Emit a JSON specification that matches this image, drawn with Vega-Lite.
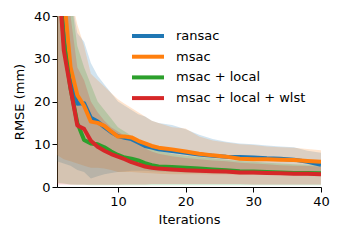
{
 "$schema": "https://vega.github.io/schema/vega-lite/v6.json",
 "width": 264, "height": 171,
 "autosize": {"type": "none"},
 "padding": {"left": 57, "top": 16, "right": 19, "bottom": 53},
 "background": "white",
 "config": {
  "view": {"stroke": null},
  "font": "DejaVu Sans",
  "axis": {"grid": false, "domainColor": "black", "tickColor": "black", "labelColor": "black", "titleColor": "black", "labelFontSize": 13, "titleFontSize": 13, "titleFontWeight": "normal", "tickSize": 5, "labelPadding": 3, "domainWidth": 1, "tickWidth": 1, "labelFlush": false},
  "legend": {"labelFontSize": 13, "labelColor": "black"}
 },
 "data": {"values": [
  {"s":"ransac","i":1,"m":65,"lo":6,"hi":100},
  {"s":"ransac","i":2,"m":42,"lo":5.5,"hi":70},
  {"s":"ransac","i":3,"m":26,"lo":5,"hi":45},
  {"s":"ransac","i":4,"m":19.5,"lo":4,"hi":36},
  {"s":"ransac","i":5,"m":19.6,"lo":3.5,"hi":34},
  {"s":"ransac","i":6,"m":16.2,"lo":2,"hi":29},
  {"s":"ransac","i":7,"m":15.3,"lo":2.5,"hi":26},
  {"s":"ransac","i":8,"m":14,"lo":3,"hi":24},
  {"s":"ransac","i":9,"m":12.8,"lo":3.3,"hi":22},
  {"s":"ransac","i":10,"m":11.9,"lo":3.5,"hi":20},
  {"s":"ransac","i":11,"m":11.5,"lo":3.6,"hi":19},
  {"s":"ransac","i":12,"m":11.2,"lo":3.8,"hi":18},
  {"s":"ransac","i":13,"m":10.4,"lo":3.8,"hi":17},
  {"s":"ransac","i":14,"m":9.6,"lo":3.8,"hi":16.5},
  {"s":"ransac","i":15,"m":9.2,"lo":3.7,"hi":15.5},
  {"s":"ransac","i":16,"m":8.8,"lo":3.6,"hi":15},
  {"s":"ransac","i":18,"m":8.4,"lo":3.5,"hi":14.5},
  {"s":"ransac","i":20,"m":8.0,"lo":3.4,"hi":13.5},
  {"s":"ransac","i":22,"m":7.6,"lo":3.3,"hi":12.2},
  {"s":"ransac","i":24,"m":7.3,"lo":3.2,"hi":11.2},
  {"s":"ransac","i":26,"m":7.1,"lo":3.1,"hi":10.6},
  {"s":"ransac","i":28,"m":7.0,"lo":3.0,"hi":10.2},
  {"s":"ransac","i":30,"m":6.9,"lo":3.0,"hi":10},
  {"s":"ransac","i":32,"m":6.7,"lo":2.9,"hi":9.7},
  {"s":"ransac","i":34,"m":6.6,"lo":2.8,"hi":9.5},
  {"s":"ransac","i":36,"m":6.4,"lo":2.7,"hi":9.3},
  {"s":"ransac","i":38,"m":5.9,"lo":2.6,"hi":8.5},
  {"s":"ransac","i":40,"m":5.2,"lo":2.5,"hi":8.0},
  {"s":"msac","i":1,"m":70,"lo":7.5,"hi":100},
  {"s":"msac","i":2,"m":45,"lo":6.5,"hi":80},
  {"s":"msac","i":3,"m":28,"lo":6,"hi":45},
  {"s":"msac","i":4,"m":21.5,"lo":5.5,"hi":38},
  {"s":"msac","i":5,"m":19,"lo":5,"hi":33},
  {"s":"msac","i":6,"m":15.3,"lo":4.5,"hi":26.5},
  {"s":"msac","i":7,"m":15,"lo":4.5,"hi":25},
  {"s":"msac","i":8,"m":14.3,"lo":4.3,"hi":23.5},
  {"s":"msac","i":9,"m":13,"lo":4.0,"hi":22},
  {"s":"msac","i":10,"m":11.8,"lo":3.5,"hi":20.5},
  {"s":"msac","i":11,"m":11.8,"lo":3.5,"hi":19.5},
  {"s":"msac","i":12,"m":11.6,"lo":3.5,"hi":18.5},
  {"s":"msac","i":13,"m":10.8,"lo":3.4,"hi":17.5},
  {"s":"msac","i":14,"m":10.2,"lo":3.3,"hi":16.5},
  {"s":"msac","i":15,"m":9.6,"lo":3.2,"hi":15.5},
  {"s":"msac","i":16,"m":9.2,"lo":3.1,"hi":15},
  {"s":"msac","i":18,"m":8.8,"lo":3.0,"hi":14},
  {"s":"msac","i":20,"m":8.3,"lo":3.0,"hi":13.7},
  {"s":"msac","i":22,"m":7.8,"lo":3.0,"hi":11.8},
  {"s":"msac","i":24,"m":7.4,"lo":2.9,"hi":10.9},
  {"s":"msac","i":26,"m":7.1,"lo":2.9,"hi":10.4},
  {"s":"msac","i":28,"m":6.6,"lo":2.8,"hi":10},
  {"s":"msac","i":30,"m":6.5,"lo":2.8,"hi":9.8},
  {"s":"msac","i":32,"m":6.5,"lo":2.8,"hi":9.5},
  {"s":"msac","i":34,"m":6.4,"lo":2.8,"hi":9.3},
  {"s":"msac","i":36,"m":6.3,"lo":2.8,"hi":9.2},
  {"s":"msac","i":38,"m":6.1,"lo":2.7,"hi":8.9},
  {"s":"msac","i":40,"m":5.9,"lo":2.7,"hi":8.6},
  {"s":"msac + local","i":1,"m":55,"lo":1,"hi":100},
  {"s":"msac + local","i":2,"m":34,"lo":0.8,"hi":65},
  {"s":"msac + local","i":3,"m":23,"lo":0.6,"hi":45},
  {"s":"msac + local","i":4,"m":15,"lo":0.5,"hi":33},
  {"s":"msac + local","i":5,"m":11,"lo":0.5,"hi":28},
  {"s":"msac + local","i":6,"m":10.2,"lo":0.4,"hi":24},
  {"s":"msac + local","i":7,"m":10.0,"lo":0.4,"hi":20},
  {"s":"msac + local","i":8,"m":9.3,"lo":0.4,"hi":18},
  {"s":"msac + local","i":9,"m":8.3,"lo":0.4,"hi":16},
  {"s":"msac + local","i":10,"m":7.5,"lo":0.4,"hi":14},
  {"s":"msac + local","i":11,"m":6.9,"lo":0.4,"hi":13},
  {"s":"msac + local","i":12,"m":6.6,"lo":0.4,"hi":12},
  {"s":"msac + local","i":13,"m":6.2,"lo":0.4,"hi":11},
  {"s":"msac + local","i":14,"m":5.6,"lo":0.4,"hi":10},
  {"s":"msac + local","i":15,"m":5.1,"lo":0.4,"hi":9},
  {"s":"msac + local","i":16,"m":4.8,"lo":0.4,"hi":8.5},
  {"s":"msac + local","i":18,"m":4.7,"lo":0.4,"hi":7.8},
  {"s":"msac + local","i":20,"m":4.5,"lo":0.4,"hi":7.3},
  {"s":"msac + local","i":22,"m":4.3,"lo":0.4,"hi":7},
  {"s":"msac + local","i":24,"m":4.1,"lo":0.4,"hi":6.7},
  {"s":"msac + local","i":26,"m":3.9,"lo":0.4,"hi":6.4},
  {"s":"msac + local","i":28,"m":3.7,"lo":0.4,"hi":6.1},
  {"s":"msac + local","i":30,"m":3.6,"lo":0.4,"hi":5.9},
  {"s":"msac + local","i":32,"m":3.5,"lo":0.4,"hi":5.7},
  {"s":"msac + local","i":34,"m":3.4,"lo":0.4,"hi":5.5},
  {"s":"msac + local","i":36,"m":3.3,"lo":0.4,"hi":5.3},
  {"s":"msac + local","i":38,"m":3.3,"lo":0.4,"hi":5.2},
  {"s":"msac + local","i":40,"m":3.2,"lo":0.4,"hi":5.1},
  {"s":"msac + local + wlst","i":1,"m":55,"lo":0.6,"hi":100},
  {"s":"msac + local + wlst","i":2,"m":32,"lo":0.6,"hi":60},
  {"s":"msac + local + wlst","i":3,"m":23,"lo":0.5,"hi":40},
  {"s":"msac + local + wlst","i":4,"m":14.4,"lo":0.5,"hi":28},
  {"s":"msac + local + wlst","i":5,"m":13.6,"lo":0.5,"hi":25},
  {"s":"msac + local + wlst","i":6,"m":10.8,"lo":0.5,"hi":20},
  {"s":"msac + local + wlst","i":7,"m":9.4,"lo":0.5,"hi":17.5},
  {"s":"msac + local + wlst","i":8,"m":8.5,"lo":0.5,"hi":15.5},
  {"s":"msac + local + wlst","i":9,"m":7.7,"lo":0.5,"hi":14},
  {"s":"msac + local + wlst","i":10,"m":7.1,"lo":0.5,"hi":13},
  {"s":"msac + local + wlst","i":11,"m":6.5,"lo":0.6,"hi":12},
  {"s":"msac + local + wlst","i":12,"m":5.8,"lo":0.6,"hi":11},
  {"s":"msac + local + wlst","i":13,"m":5.3,"lo":0.6,"hi":10},
  {"s":"msac + local + wlst","i":14,"m":4.8,"lo":0.6,"hi":9},
  {"s":"msac + local + wlst","i":15,"m":4.5,"lo":0.7,"hi":8.3},
  {"s":"msac + local + wlst","i":16,"m":4.3,"lo":0.7,"hi":7.8},
  {"s":"msac + local + wlst","i":18,"m":4.1,"lo":0.7,"hi":7.2},
  {"s":"msac + local + wlst","i":20,"m":3.9,"lo":0.7,"hi":6.8},
  {"s":"msac + local + wlst","i":22,"m":3.8,"lo":0.7,"hi":6.5},
  {"s":"msac + local + wlst","i":24,"m":3.7,"lo":0.7,"hi":6.2},
  {"s":"msac + local + wlst","i":26,"m":3.6,"lo":0.7,"hi":6},
  {"s":"msac + local + wlst","i":28,"m":3.4,"lo":0.7,"hi":5.7},
  {"s":"msac + local + wlst","i":30,"m":3.4,"lo":0.6,"hi":5.5},
  {"s":"msac + local + wlst","i":32,"m":3.3,"lo":0.6,"hi":5.3},
  {"s":"msac + local + wlst","i":34,"m":3.2,"lo":0.6,"hi":5.1},
  {"s":"msac + local + wlst","i":36,"m":3.1,"lo":0.6,"hi":5},
  {"s":"msac + local + wlst","i":38,"m":3.1,"lo":0.6,"hi":4.9},
  {"s":"msac + local + wlst","i":40,"m":3.0,"lo":0.6,"hi":4.8}
 ]},
 "encoding": {
  "x": {"field": "i", "type": "quantitative", "scale": {"domain": [1, 40], "nice": false, "zero": false}, "axis": {"values": [10, 20, 30, 40], "title": "Iterations", "titlePadding": 5}}
 },
 "resolve": {"legend": {"color": "independent"}},
 "layer": [
  {
   "mark": {"type": "area", "opacity": 0.2, "clip": true},
   "encoding": {
    "y": {"field": "lo", "type": "quantitative", "scale": {"domain": [0, 40], "nice": false}, "axis": {"values": [0, 10, 20, 30, 40], "title": "RMSE (mm)", "labelPadding": 2, "titlePadding": 7}},
    "y2": {"field": "hi"},
    "color": {"field": "s", "type": "nominal", "scale": {"domain": ["ransac", "msac", "msac + local", "msac + local + wlst"], "range": ["#1f77b4", "#ff7f0e", "#2ca02c", "#d62728"]}, "legend": null}
   }
  },
  {
   "mark": {"type": "line", "strokeWidth": 4, "strokeJoin": "round", "clip": true},
   "encoding": {
    "y": {"field": "m", "type": "quantitative", "axis": {"values": [0, 10, 20, 30, 40], "title": "RMSE (mm)", "labelPadding": 2, "titlePadding": 7}},
    "color": {"field": "s", "type": "nominal", "legend": {"orient": "none", "legendX": 82.5, "legendY": 11.5, "title": null, "symbolType": "M-2.46,0H2.46", "symbolSize": 169, "symbolStrokeWidth": 4, "symbolFillColor": "transparent", "labelOffset": 19.5, "rowPadding": 3.7, "labelFontSize": 13}}
   }
  }
 ]
}
